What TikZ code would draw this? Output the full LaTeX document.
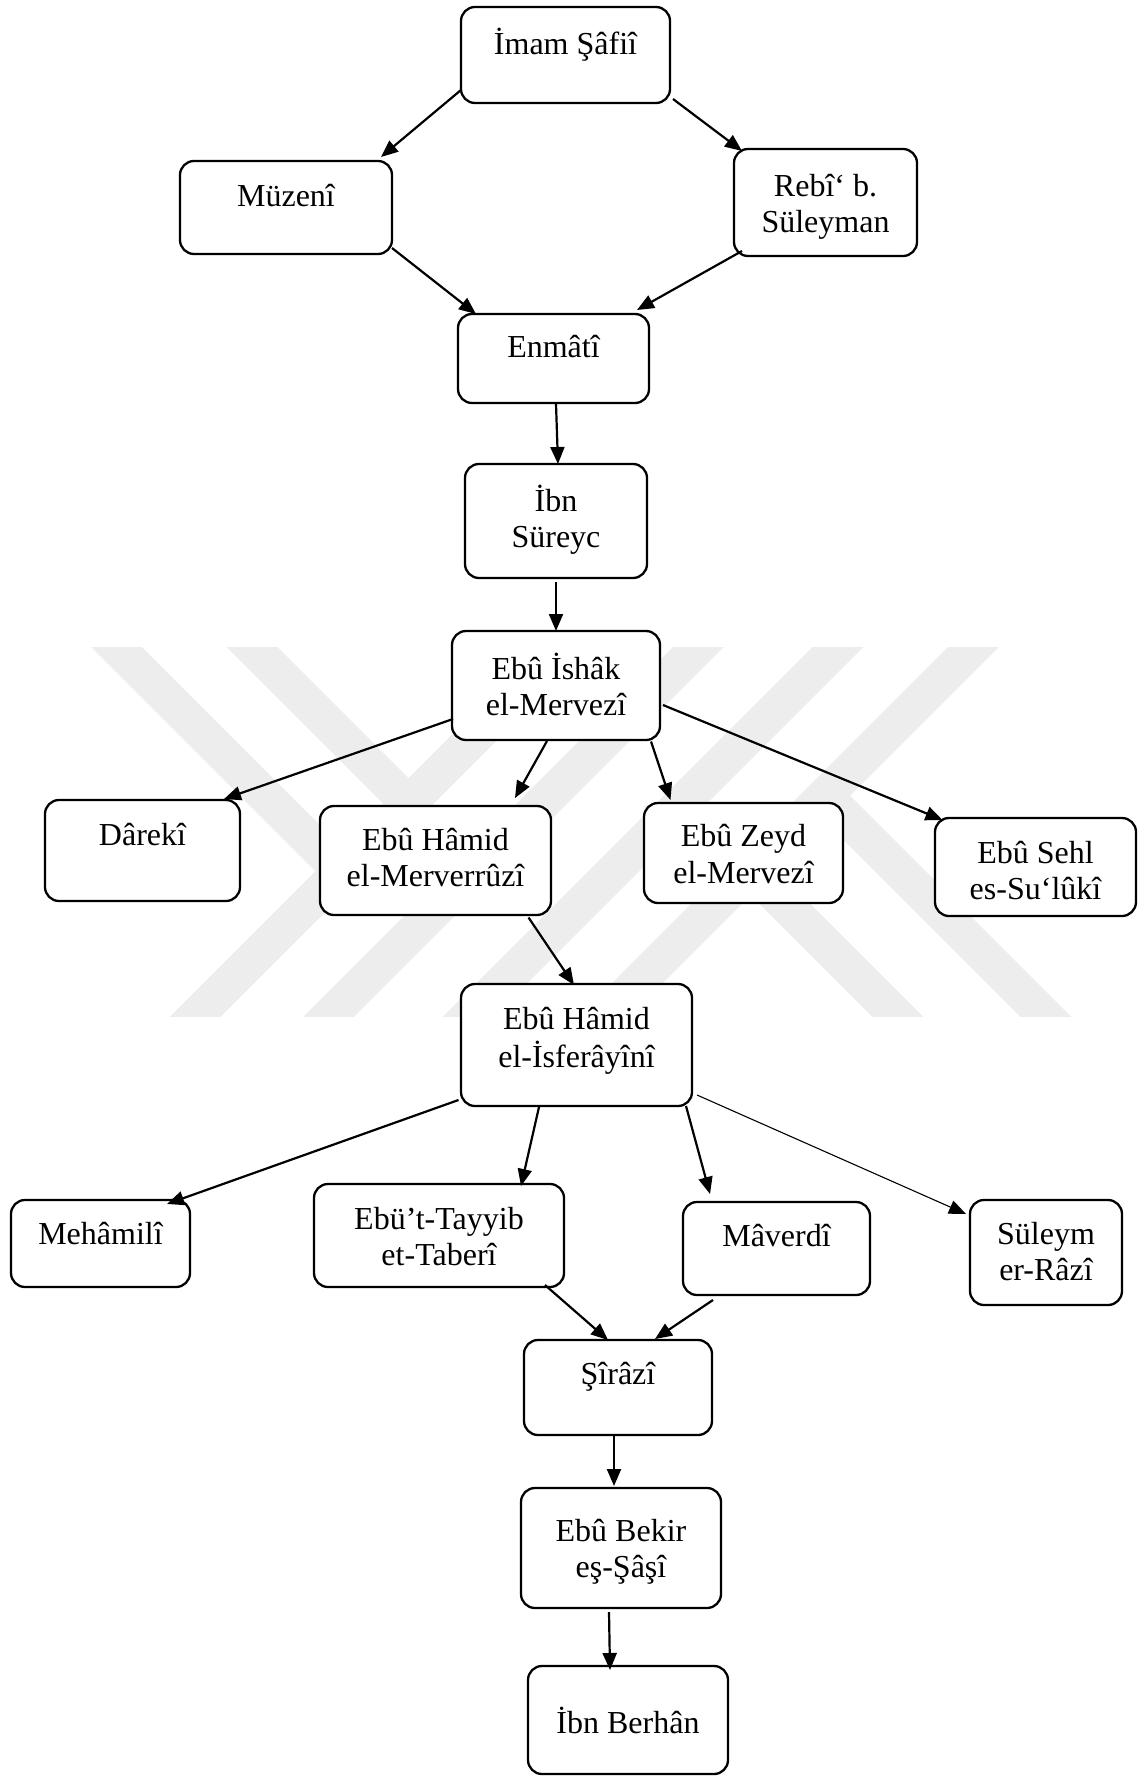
\documentclass[tikz,border=0pt]{standalone}
\usepackage{fontspec}
\setmainfont{Liberation Serif}
\usetikzlibrary{arrows.meta}
\begin{document}
\begin{tikzpicture}[x=1pt,y=-1pt,
  box/.style={draw, line width=2.3pt, rounded corners=14pt, fill=white, outer sep=0pt, inner sep=0pt},
  lbl/.style={anchor=north, align=center, inner sep=0pt, font=\fontsize{32}{36.5}\selectfont},
  arr/.style={line width=2.2pt, -{Triangle[length=17pt,width=14pt]}},
  thinarr/.style={line width=1.1pt, -{Triangle[length=17pt,width=14pt]}},
  wm/.style={draw=black!7, line width=36pt}
]
\useasboundingbox (0,0) rectangle (1139,1776);
\fill[white] (0,0) rectangle (1139,1776);
% watermark
\begin{scope}
\clip (0,647) rectangle (1139,1016);
\draw[wm] (582,630) -- (182,1030);
\draw[wm] (715.5,630) -- (315.5,1030);
\draw[wm] (855,630) -- (455,1030);
\draw[wm] (990.5,630) -- (590.5,1030);
\draw[wm] (99.5,630) -- (340.75,871.25);
\draw[wm] (235,630) -- (408.5,803.5);
\draw[wm] (911,1030) -- (750.75,869.75);
\draw[wm] (1059,1030) -- (824.75,795.75);
\end{scope}
% boxes
\node[box, minimum width=209pt, minimum height=96pt] (safii) at (565.5,55) {};
\node[box, minimum width=212pt, minimum height=93pt] (muzeni) at (286,207.5) {};
\node[box, minimum width=183pt, minimum height=107pt] (rebi) at (825.5,202.5) {};
\node[box, minimum width=191pt, minimum height=89pt] (enmati) at (553.5,358.5) {};
\node[box, minimum width=182pt, minimum height=114pt] (ibn) at (556,521) {};
\node[box, minimum width=208pt, minimum height=109pt] (ishak) at (556,685.5) {};
\node[box, minimum width=195pt, minimum height=101pt] (dareki) at (142.5,850.5) {};
\node[box, minimum width=231pt, minimum height=109pt] (merv) at (435.5,860.5) {};
\node[box, minimum width=199pt, minimum height=100pt] (zeyd) at (743.5,853) {};
\node[box, minimum width=201pt, minimum height=98pt] (sehl) at (1035.5,867) {};
\node[box, minimum width=231pt, minimum height=122pt] (isfe) at (576.5,1045) {};
\node[box, minimum width=179pt, minimum height=87pt] (meha) at (100.5,1243.5) {};
\node[box, minimum width=250pt, minimum height=103pt] (tayyib) at (439,1235.5) {};
\node[box, minimum width=187pt, minimum height=93pt] (maverdi) at (776.5,1248.5) {};
\node[box, minimum width=152pt, minimum height=105pt] (suleym) at (1046,1252.5) {};
\node[box, minimum width=188pt, minimum height=95pt] (sirazi) at (618,1387.5) {};
\node[box, minimum width=200pt, minimum height=120pt] (bekir) at (621,1548) {};
\node[box, minimum width=200pt, minimum height=108pt] (berhan) at (628,1720) {};
% texts
\node[lbl] (safiiT) at ([yshift=-20.5pt]safii.north) {\strut İmam Şâfiî};
\node[lbl] (muzeniT) at ([yshift=-19.5pt]muzeni.north) {\strut Müzenî};
\node[lbl] (rebiT) at ([yshift=-21.5pt]rebi.north) {\strut Rebî‘ b.\\\strut Süleyman};
\node[lbl] (enmatiT) at ([yshift=-17.5pt]enmati.north) {\strut Enmâtî};
\node[lbl] (ibnT) at ([yshift=-20.5pt]ibn.north) {\strut İbn\\\strut Süreyc};
\node[lbl] (ishakT) at ([yshift=-21.5pt]ishak.north) {\strut Ebû İshâk\\\strut el-Mervezî};
\node[lbl] (darekiT) at ([yshift=-19.5pt]dareki.north) {\strut Dârekî};
\node[lbl] (mervT) at ([yshift=-18.5pt]merv.north) {\strut Ebû Hâmid\\\strut el-Merverrûzî};
\node[lbl] (zeydT) at ([yshift=-18pt]zeyd.north) {\strut Ebû Zeyd\\\strut el-Mervezî};
\node[lbl] (sehlT) at ([yshift=-19.5pt]sehl.north) {\strut Ebû Sehl\\\strut es-Su‘lûkî};
\node[lbl] (isfeT) at ([yshift=-19.5pt]isfe.north) {\strut Ebû Hâmid\\\strut el-İsferâyînî};
\node[lbl] (mehaT) at ([yshift=-18.5pt]meha.north) {\strut Mehâmilî};
\node[lbl] (tayyibT) at ([yshift=-19.5pt]tayyib.north) {\strut Ebü’t-Tayyib\\\strut et-Taberî};
\node[lbl] (maverdiT) at ([yshift=-18.5pt]maverdi.north) {\strut Mâverdî};
\node[lbl] (suleymT) at ([yshift=-18.5pt]suleym.north) {\strut Süleym\\\strut er-Râzî};
\node[lbl] (siraziT) at ([yshift=-18.5pt]sirazi.north) {\strut Şîrâzî};
\node[lbl] (bekirT) at ([yshift=-27.5pt]bekir.north) {\strut Ebû Bekir\\\strut eş-Şâşî};
\node[lbl] (berhanT) at ([yshift=-40.5pt]berhan.north) {\strut İbn Berhân};
% connectors
\draw[arr] ([shift={(-104.5,35)}]safii.center) -- ([shift={(95,-50.5)}]muzeni.center);
\draw[arr] ([shift={(107.5,44)}]safii.center) -- ([shift={(-83.5,-51.5)}]rebi.center);
\draw[arr] ([shift={(106,40.5)}]muzeni.center) -- ([shift={(-77.5,-44.5)}]enmati.center);
\draw[arr] ([shift={(-83.5,48.5)}]rebi.center) -- ([shift={(83.5,-48.5)}]enmati.center);
\draw[arr] ([shift={(2.5,45.5)}]enmati.center) -- ([shift={(2,-57)}]ibn.center);
\draw[arr] ([shift={(0,61)}]ibn.center) -- ([shift={(0,-54.5)}]ishak.center);
\draw[arr] ([shift={(-103,33.5)}]ishak.center) -- ([shift={(81.5,-51.5)}]dareki.center);
\draw[arr] ([shift={(-9,55.5)}]ishak.center) -- ([shift={(79.5,-62.5)}]merv.center);
\draw[arr] ([shift={(95,56)}]ishak.center) -- ([shift={(-73,-53)}]zeyd.center);
\draw[arr] ([shift={(107,19.5)}]ishak.center) -- ([shift={(-93,-47)}]sehl.center);
\draw[arr] ([shift={(93,57)}]merv.center) -- ([shift={(-2.5,-60)}]isfe.center);
\draw[arr] ([shift={(-118,55)}]isfe.center) -- ([shift={(66.5,-39.5)}]meha.center);
\draw[arr] ([shift={(-37.5,62)}]isfe.center) -- ([shift={(82,-49.5)}]tayyib.center);
\draw[arr] ([shift={(109.5,61)}]isfe.center) -- ([shift={(-66.5,-54.5)}]maverdi.center);
\draw[thinarr] ([shift={(120.5,50)}]isfe.center) -- ([shift={(-80,-38.5)}]suleym.center);
\draw[arr] ([shift={(106,49.5)}]tayyib.center) -- ([shift={(-10,-47.5)}]sirazi.center);
\draw[arr] ([shift={(-63.5,51.5)}]maverdi.center) -- ([shift={(37,-48.5)}]sirazi.center);
\draw[arr] ([shift={(-4,47.5)}]sirazi.center) -- ([shift={(-7,-62)}]bekir.center);
\draw[arr] ([shift={(-12,64)}]bekir.center) -- ([shift={(-18,-50)}]berhan.center);
\end{tikzpicture}
\end{document}
